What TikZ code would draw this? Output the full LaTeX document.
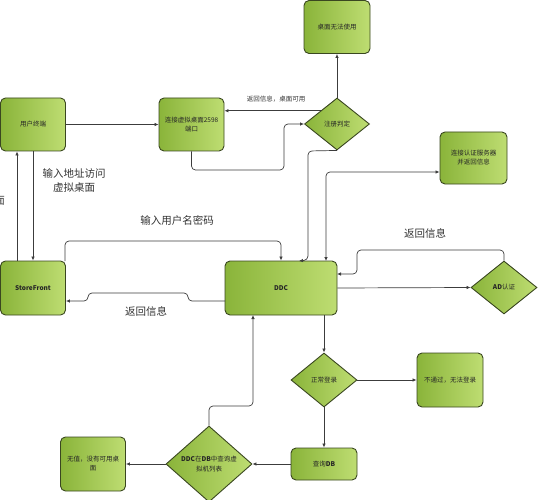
\documentclass[tikz,border=0pt]{standalone}
\usepackage{fontspec}
\setmainfont{Noto Sans CJK SC}
\usetikzlibrary{shapes.geometric,arrows.meta,calc}
\definecolor{boxline}{HTML}{3A4720}
\definecolor{gdark}{HTML}{8AB43A}
\definecolor{glight}{HTML}{BEDD72}
\definecolor{conn}{HTML}{3C3C3C}
\definecolor{lbl}{HTML}{333333}
\tikzset{
  gbox/.style={draw=boxline, line width=0.9pt, rounded corners=5pt, left color=gdark, right color=glight,
    minimum width=#1, minimum height=53pt, inner sep=1pt, align=center, font=\fontsize{6.5}{9}\selectfont, text=black!85},
  gbox/.default=65pt,
  gdia/.style={draw=boxline, line width=0.9pt, diamond, left color=gdark, right color=glight, inner sep=0pt,
    align=center, font=\fontsize{6.5}{10}\selectfont, text=black!85},
  arr/.style={draw=conn, line width=0.7pt, -{Latex[length=4pt,width=3.5pt]}, rounded corners=4pt},
  biarr/.style={draw=conn, line width=0.7pt, {Latex[length=4pt,width=3.5pt]}-{Latex[length=4pt,width=3.5pt]}, rounded corners=4pt},
  biglbl/.style={font=\fontsize{10.5}{14}\selectfont, text=lbl, align=center},
  smalllbl/.style={font=\fontsize{6.5}{8}\selectfont, text=lbl}
}
\begin{document}
\begin{tikzpicture}[x=1pt,y=-1pt]
\useasboundingbox (0,0) rectangle (538,500);
% nodes
\node[gbox] (ut) at (33,124.5) {用户终端};
\node[gbox] (lj) at (191.5,124.5) {连接虚拟桌面2598\\端口};
\node[gbox=66pt] (zm) at (337,27) {桌面无法使用};
\node[gdia, minimum width=65pt, minimum height=52pt] (zc) at (337,124) {注册判定};
\node[gbox=67pt, minimum height=52pt] (rz) at (473.5,158) {连接认证服务器\\并返回信息};
\node[gbox, minimum height=54pt, font=\fontsize{6.5}{9}\selectfont\bfseries] (sf) at (33,288) {StoreFront};
\node[gbox=112pt, minimum height=54pt, font=\fontsize{6.5}{9}\selectfont\bfseries] (ddc) at (281,288) {DDC};
\node[gdia, minimum width=66pt, minimum height=53pt] (ad) at (504,287.5) {\textbf{AD}认证};
\node[gdia, minimum width=66pt, minimum height=54pt] (zc2) at (324,380) {正常登录};
\node[gbox=66pt, minimum height=54pt] (bt) at (450,380) {不通过，无法登录};
\node[gbox=66pt, minimum height=32pt] (cx) at (324,464) {查询\textbf{DB}};
\node[gdia, minimum width=86pt, minimum height=76pt] (cxd) at (209,464) {\textbf{DDC}在\textbf{DB}中查询虚\\拟机列表};
\node[gbox, minimum height=54pt] (wz) at (93,464) {无值，没有可用桌\\面};
% labels
\node[biglbl] (l1) at (74,180) {输入地址访问\\虚拟桌面};
\node[biglbl] (l2) at (177,220) {输入用户名密码};
\node[biglbl] (l3) at (146,311) {返回信息};
\node[biglbl] (l4) at (425,233) {返回信息};
\node[smalllbl] (l5) at (276,99) {返回信息，桌面可用};
\node[biglbl, anchor=east, inner sep=0pt] (l6) at (5,201) {面};
% connectors
\draw[arr] (ut.east) -- (lj.west);
\draw[arr] (zc.north west) -- (lj.east |- zc.north west);
\coordinate (c1) at (284,170);
\draw[arr] (lj.south) |- (c1) |- (zc.west);
\draw[arr] (zc.north) -- (zm.south);
\coordinate (c2) at (308,151);
\coordinate (c3) at (308,260);
\coordinate (c4) at (299,261);
\draw[arr] (zc.south) -- (c2) -- (c3) -- (c4);
\coordinate (c5) at (326,261);
\draw[biarr] (rz.west |- 0,172) -| (c5);
\coordinate (s1) at (17,261);
\coordinate (s2) at (33,151);
\draw[arr] (s1) -- (s1 |- ut.south);
\draw[arr] (s2) -- (s2 |- sf.north);
\coordinate (s3) at (65,261);
\coordinate (s4) at (65,241);
\draw[arr] (s3) -- (s4) -| (ddc.north);
\coordinate (d1) at (225,301);
\draw[arr] (d1) -- (188,301) -- (188,293) -- (88,293) -- (88,301) -- (sf.east |- d1);
\draw[arr] (ddc.east) -- (ad.west);
\coordinate (a1) at (357,250);
\coordinate (a2) at (337,274);
\draw[arr] (ad.north) |- (a1) |- (a2);
\coordinate (d2) at (324,315);
\draw[arr] (d2) -- (zc2.north);
\draw[arr] (zc2.east) -- (bt.west);
\draw[arr] (zc2.south) -- (cx.north);
\draw[arr] (cx.west) -- (cxd.east);
\draw[arr] (cxd.west) -- (wz.east);
\coordinate (d3) at (253,406);
\coordinate (d4) at (253,315);
\draw[arr] (cxd.north) |- (d3) -- (d4);
\end{tikzpicture}
\end{document}
